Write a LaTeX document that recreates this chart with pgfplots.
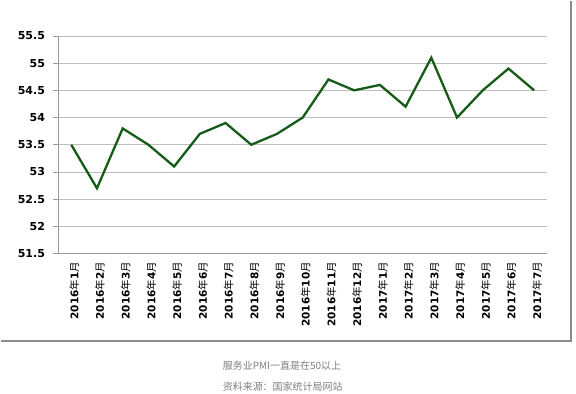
\documentclass[border=0pt]{standalone}
\usepackage{fontspec}
\usepackage{pgfplots}
\pgfplotsset{compat=1.18}
\setmainfont{DejaVu Sans}
\newfontfamily\cjk{Noto Sans CJK SC}
\newfontfamily\dvb{DejaVu Sans Bold}
\definecolor{pmigreen}{RGB}{22,92,24}
\definecolor{gridgray}{RGB}{190,190,190}
\begin{document}
\begin{tikzpicture}
\path[fill=white] (0bp,0bp) rectangle (576bp,393bp);
% frame shadow
\draw[line width=2bp, color=black!45] (0bp,52bp) -- (571bp,52bp) -- (571bp,393bp);
\begin{axis}[
  at={(57.5bp,140bp)}, anchor=south west,
  scale only axis, width=489.5bp, height=218bp,
  xmin=-0.5, xmax=18.5, ymin=51.5, ymax=55.5,
  ytick={51.5,52,...,55.5},
  yticklabels={51.5,52,52.5,53,53.5,54,54.5,55,55.5},
  xtick={0,...,18},
  xticklabels={2016{\cjk 年}1{\cjk 月},2016{\cjk 年}2{\cjk 月},2016{\cjk 年}3{\cjk 月},2016{\cjk 年}4{\cjk 月},2016{\cjk 年}5{\cjk 月},2016{\cjk 年}6{\cjk 月},2016{\cjk 年}7{\cjk 月},2016{\cjk 年}8{\cjk 月},2016{\cjk 年}9{\cjk 月},2016{\cjk 年}10{\cjk 月},2016{\cjk 年}11{\cjk 月},2016{\cjk 年}12{\cjk 月},2017{\cjk 年}1{\cjk 月},2017{\cjk 年}2{\cjk 月},2017{\cjk 年}3{\cjk 月},2017{\cjk 年}4{\cjk 月},2017{\cjk 年}5{\cjk 月},2017{\cjk 年}6{\cjk 月},2017{\cjk 年}7{\cjk 月}},
  x tick style={draw=none},
  extra x ticks={-0.5,0.5,...,18.5},
  extra x tick labels={},
  extra x tick style={major tick length=4bp, tick style={draw=gridgray!80!black, line width=0.6bp}, grid=none},
  ymajorgrids, major grid style={draw=gridgray, line width=0.8bp},
  y tick style={draw=gridgray!80!black, line width=0.8bp},
  tick align=outside, major tick length=5bp,
  axis x line*=bottom, axis y line*=left,
  axis line style={draw=gridgray!80!black, line width=0.8bp},
  /pgf/number format/assume math mode=true,
  yticklabel style={font=\dvb\fontsize{11bp}{13bp}\selectfont, xshift=-5bp},
  xticklabel style={font=\dvb\fontsize{10.5bp}{12bp}\selectfont, rotate=90, anchor=east, yshift=-3bp},
  clip=false,
]
\addplot[color=pmigreen, line width=2.3bp, mark=none] coordinates {
(0,53.5) (1,52.7) (2,53.8) (3,53.5) (4,53.1) (5,53.7) (6,53.9) (7,53.5) (8,53.7) (9,54.0)
(10,54.7) (11,54.5) (12,54.6) (13,54.2) (14,55.1) (15,54.0) (16,54.5) (17,54.9) (18,54.5)
};
\end{axis}
\node[anchor=west, inner sep=0pt, text=black!50, font=\cjk\fontsize{10bp}{12bp}\selectfont] at (222bp,28bp) {服务业PMI一直是在50以上};
\node[anchor=west, inner sep=0pt, text=black!50, font=\cjk\fontsize{10bp}{12bp}\selectfont] at (222bp,7bp) {资料来源：国家统计局网站};
\end{tikzpicture}
\end{document}
